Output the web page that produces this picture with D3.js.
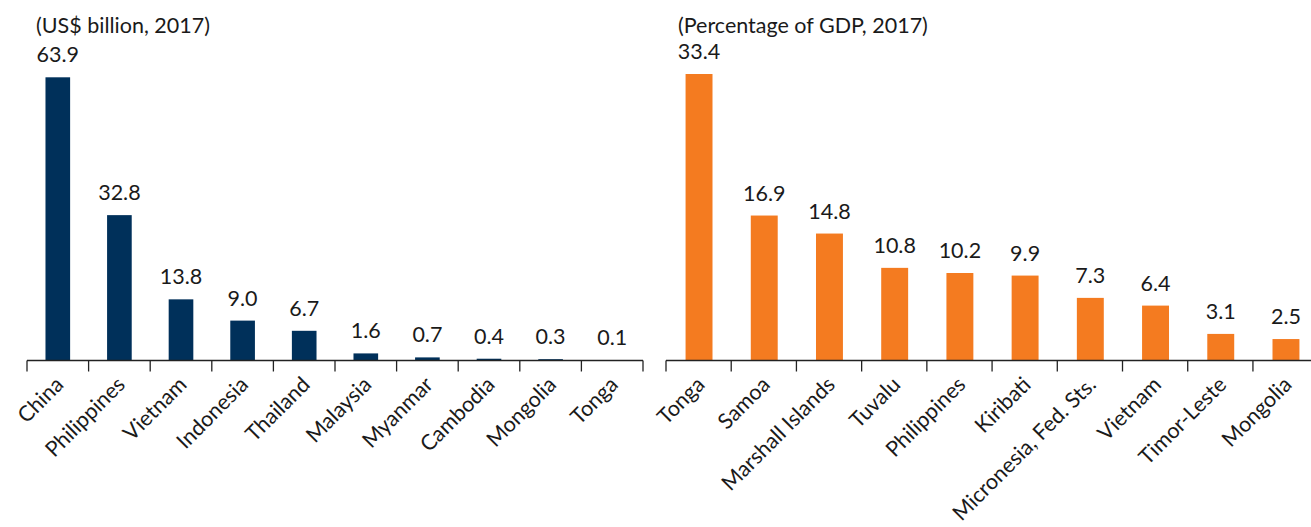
<!DOCTYPE html>
<html><head><meta charset="utf-8">
<script src="https://cdn.jsdelivr.net/npm/d3@7"></script>
<style>body{margin:0;background:#fff}svg{display:block}text{font-family:Lato,"Noto Sans",sans-serif;fill:#1a1a1a}</style>
</head><body><svg id="c" width="1311" height="527"></svg>
<script>
const leftCategories = ["China","Philippines","Vietnam","Indonesia","Thailand","Malaysia","Myanmar","Cambodia","Mongolia","Tonga"];
const leftValues = [63.9,32.8,13.8,9.0,6.7,1.6,0.7,0.4,0.3,0.1];
const leftTitle = "(US$ billion, 2017)";
const rightCategories = ["Tonga","Samoa","Marshall Islands","Tuvalu","Philippines","Kiribati","Micronesia, Fed. Sts.","Vietnam","Timor-Leste","Mongolia"];
const rightValues = [33.4,16.9,14.8,10.8,10.2,9.9,7.3,6.4,3.1,2.5];
const rightTitle = "(Percentage of GDP, 2017)";

const svg = d3.select("#c");
const base = 360.5;

function panel(cats, vals, title, color, x0, x1, ymax, ytop, pInner, titleX){
  const x = d3.scaleBand().domain(cats).range([x0,x1]).paddingInner(pInner).paddingOuter(0.3);
  const y = d3.scaleLinear().domain([0,ymax]).range([base, ytop]);
  const g = svg.append("g");
  g.selectAll("rect").data(vals).join("rect")
    .attr("x",(d,i)=>x(cats[i])).attr("width",x.bandwidth())
    .attr("y",d=>y(d)).attr("height",d=>base-y(d)).attr("fill",color);
  g.selectAll("text.v").data(vals).join("text").attr("class","v")
    .attr("x",(d,i)=>x(cats[i])+x.bandwidth()/2).attr("y",d=>y(d)-15)
    .attr("text-anchor","middle").attr("font-size",21.5).text(d=>d.toFixed(1));
  g.append("line").attr("x1",x0).attr("x2",x1).attr("y1",base).attr("y2",base).attr("stroke","#222").attr("stroke-width",1.3);
  const step = x.step();
  d3.range(cats.length+1).forEach(i=>{
    const xx = x0 + i*step;
    g.append("line").attr("x1",xx).attr("x2",xx).attr("y1",base).attr("y2",base+11).attr("stroke","#222").attr("stroke-width",1.3);
  });
  g.selectAll("text.c").data(cats).join("text").attr("class","c")
    .attr("text-anchor","end").attr("font-size",21.5)
    .attr("transform",d=>`translate(${x(d)+x.bandwidth()/2+7},386) rotate(-45)`)
    .text(d=>d);
  g.append("text").attr("x",titleX).attr("y",33).attr("font-size",21.5).text(title);
}
panel(leftCategories,leftValues,leftTitle,"#00305a",27,643,63.9,77.3,0.6,36);
panel(rightCategories,rightValues,rightTitle,"#f47b20",666,1319,33.4,74,0.587,678);
</script></body></html>
